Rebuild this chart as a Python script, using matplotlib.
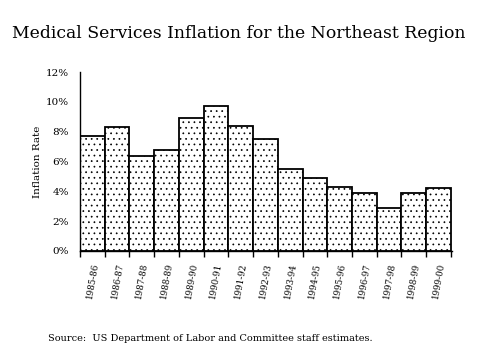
import matplotlib
matplotlib.use("Agg")
import matplotlib.pyplot as plt
import numpy as np

periods = ["1985-86", "1986-87", "1987-88", "1988-89", "1989-90", "1990-91", "1991-92",
           "1992-93", "1993-94", "1994-95", "1995-96", "1996-97", "1997-98", "1998-99", "1999-00"]
rates = [7.7, 8.3, 6.4, 6.8, 8.9, 9.7, 8.4, 7.5, 5.5, 4.9, 4.3, 3.9, 2.9, 3.9, 4.2]
yticks = [0, 2, 4, 6, 8, 10, 12]

plt.rcParams['font.family'] = ['DejaVu Serif']
plt.rcParams['hatch.linewidth'] = 0.5

fig = plt.figure(figsize=(4.79, 3.59), dpi=100)
ax = fig.add_axes([0.167, 0.301, 0.777, 0.4984])

x = np.arange(len(periods))
ax.bar(x, rates, width=1.0, color='white', edgecolor='black', linewidth=1.3, hatch='...', align='center')
ax.set_xlim(-0.5, len(periods) - 0.5 + 0.05)
ax.set_ylim(0, 12)
ax.set_yticks(yticks)
ax.set_yticklabels([f"{v}%" for v in yticks], fontsize=7.5)
ax.tick_params(axis='y', length=0, pad=8)
ax.set_xticks(np.arange(len(periods) + 1) - 0.5)
ax.set_xticklabels([])
ax.set_xticks(x, minor=True)
ax.set_xticklabels(periods, minor=True, rotation=80, fontsize=6.2, va='top', ha='center')
ax.tick_params(axis='x', which='major', length=4, width=1, direction='out')
ax.tick_params(axis='x', which='minor', length=0, pad=8)
for s in ['top', 'right']:
    ax.spines[s].set_visible(False)
for s in ['left', 'bottom']:
    ax.spines[s].set_linewidth(1.0)
ax.set_ylabel("Inflation Rate", fontsize=7.5, labelpad=3)

fig.text(0.499, 0.908, "Medical Services Inflation for the Northeast Region", ha='center', va='center', fontsize=12.4)
fig.text(0.1, 0.058, "Source:  US Department of Labor and Committee staff estimates.", ha='left', va='center', fontsize=7.0)

fig.savefig("out.png", dpi=100)
